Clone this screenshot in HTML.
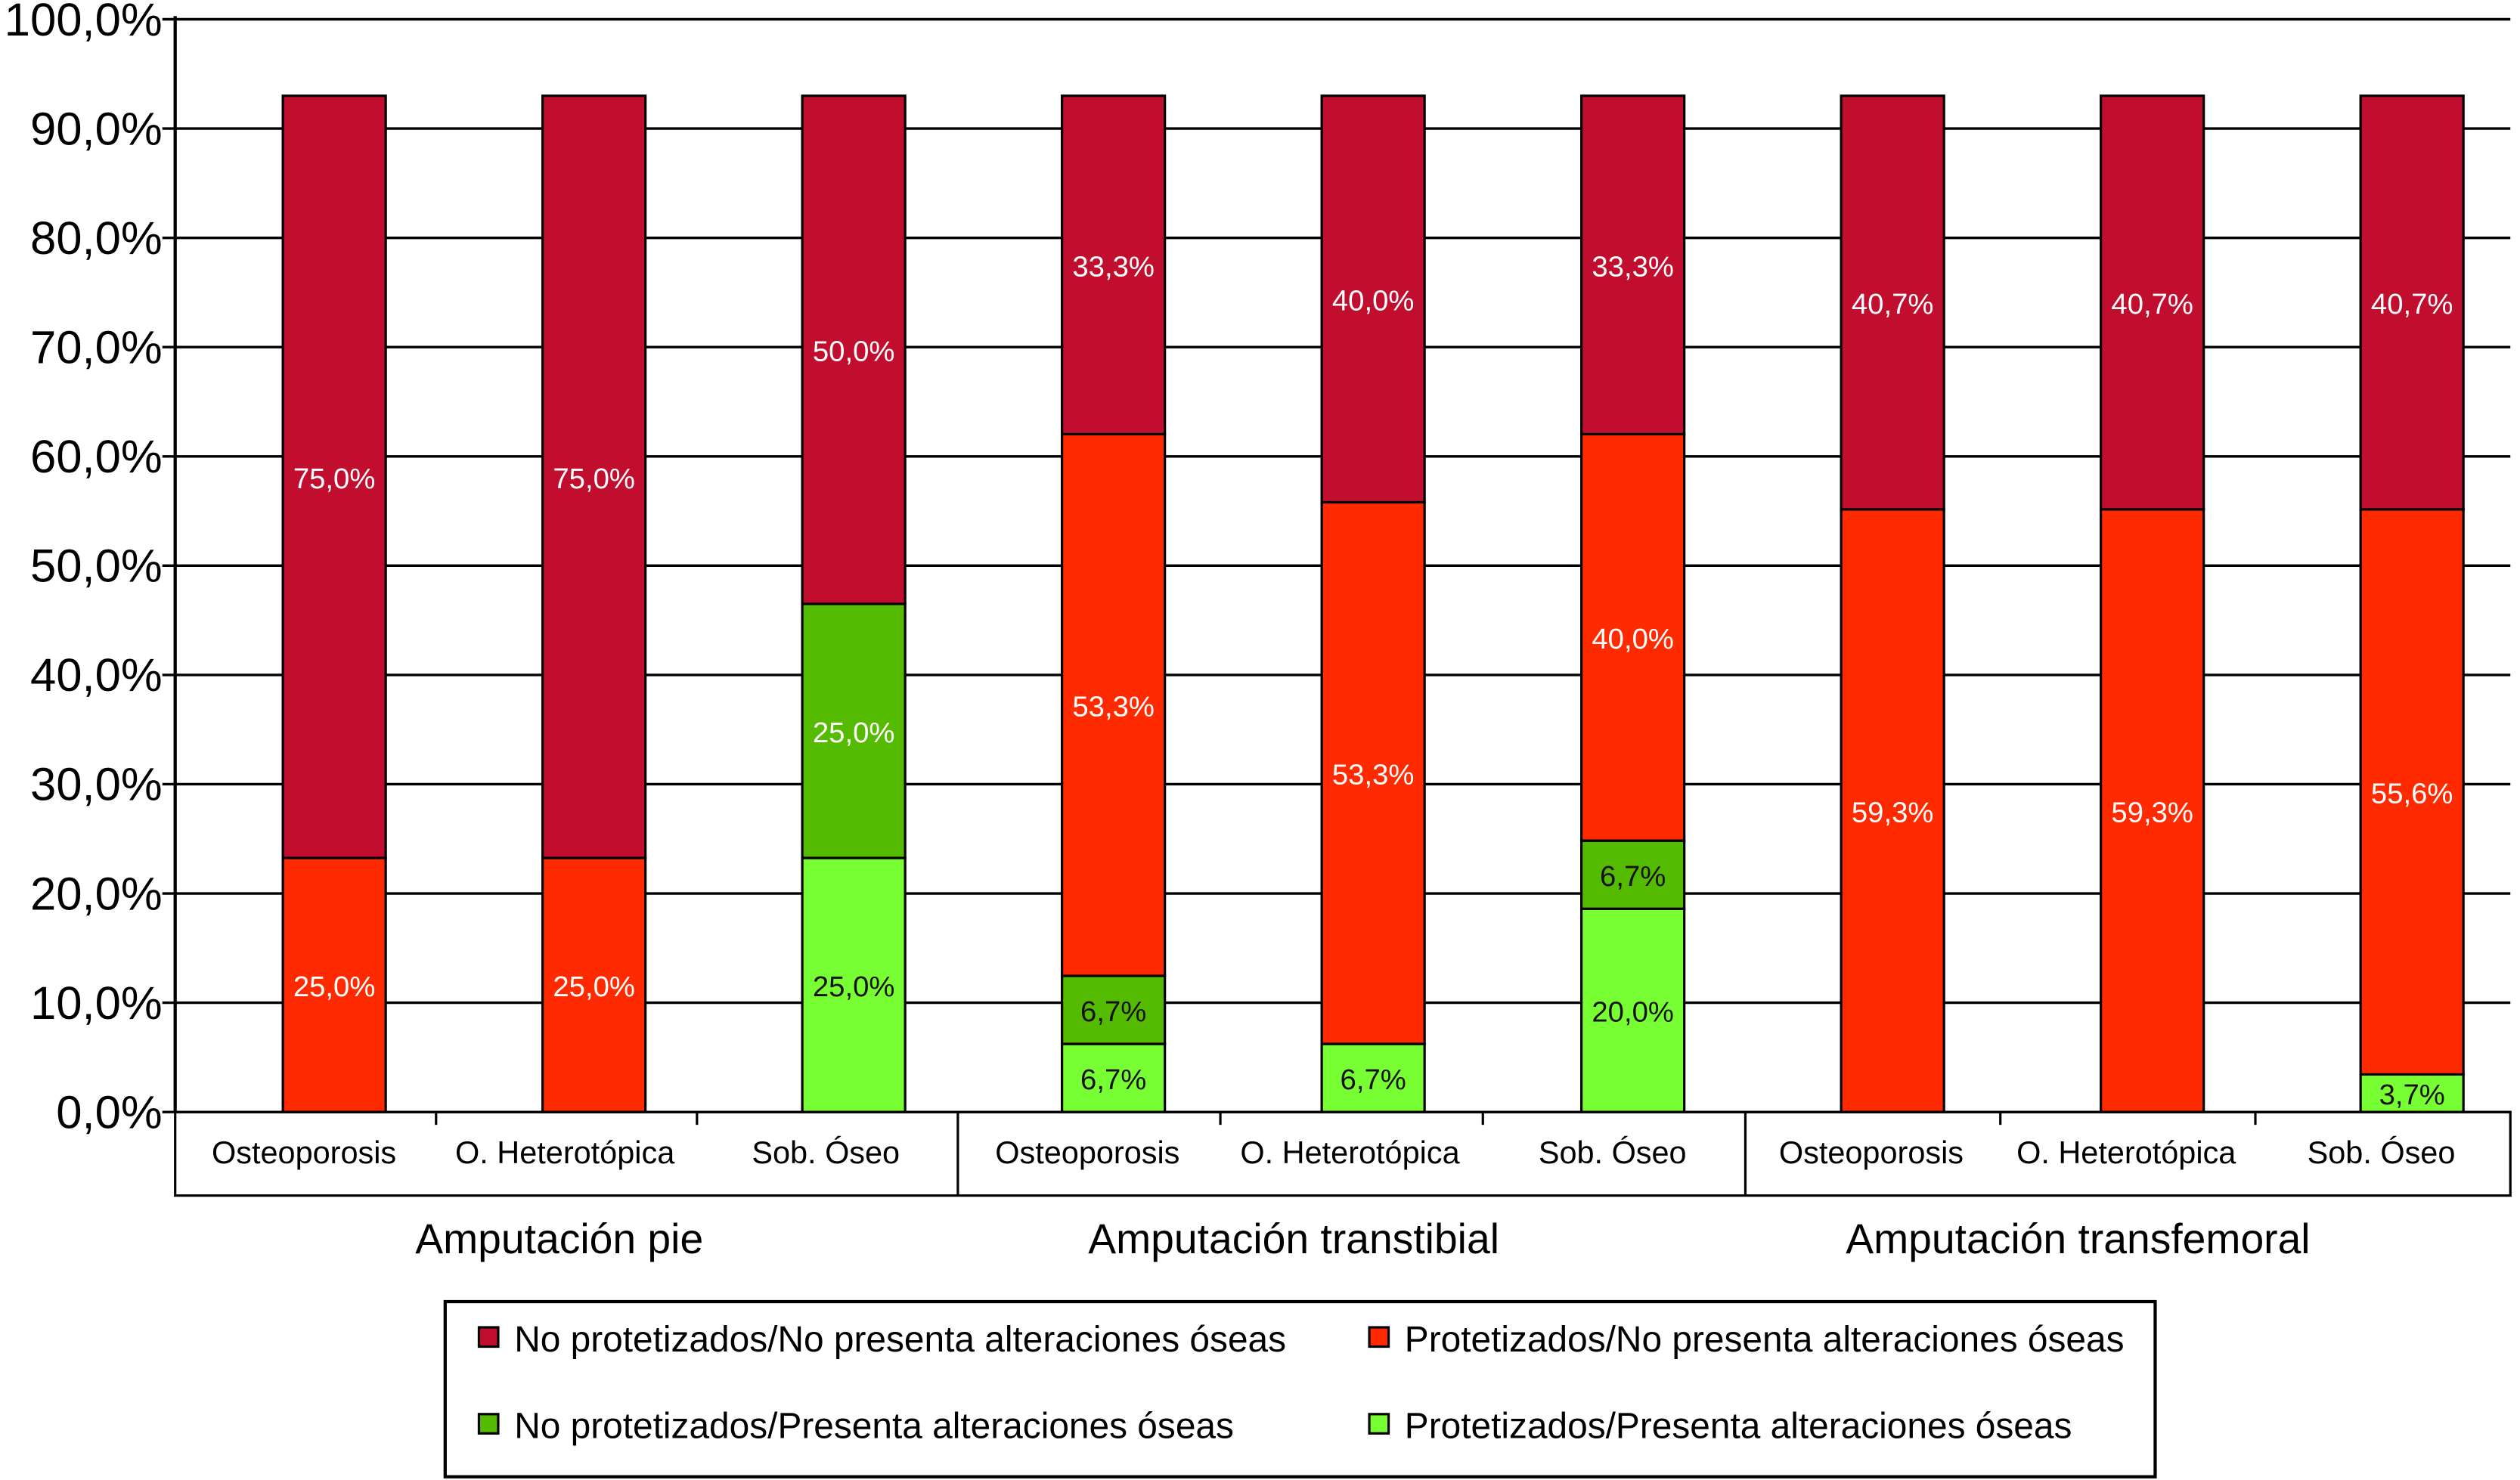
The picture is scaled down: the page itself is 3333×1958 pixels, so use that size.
<!DOCTYPE html>
<html><head><meta charset="utf-8"><style>html,body{margin:0;padding:0;background:#fff}svg{display:block}text{font-family:"Liberation Sans",Arial,sans-serif}</style></head>
<body>
<svg id="chart" width="3333" height="1958" viewBox="0 0 1568 921" preserveAspectRatio="none" xmlns="http://www.w3.org/2000/svg">
<g id="grid"></g>
<g id="yaxis"></g>
<g id="bars"></g>
<g id="xaxis"></g>
<g id="legend"></g>
</svg>
<script>
const groups = ["Amputación pie", "Amputación transtibial", "Amputación transfemoral"];
const categories = ["Osteoporosis", "O. Heterotópica", "Sob. Óseo"];
const seriesNames = ["Protetizados/Presenta alteraciones óseas", "No protetizados/Presenta alteraciones óseas", "Protetizados/No presenta alteraciones óseas", "No protetizados/No presenta alteraciones óseas"];
// values per bar (9 bars), bottom to top
const protPresenta = [0, 0, 25.0, 6.7, 6.7, 20.0, 0, 0, 3.7];
const noProtPresenta = [0, 0, 25.0, 6.7, 0, 6.7, 0, 0, 0];
const protNoPresenta = [25.0, 25.0, 0, 53.3, 53.3, 40.0, 59.3, 59.3, 55.6];
const noProtNoPresenta = [75.0, 75.0, 50.0, 33.3, 40.0, 33.3, 40.7, 40.7, 40.7];
const yTicks = [0, 10, 20, 30, 40, 50, 60, 70, 80, 90, 100];
const tickLabels = ["0,0%", "10,0%", "20,0%", "30,0%", "40,0%", "50,0%", "60,0%", "70,0%", "80,0%", "90,0%", "100,0%"];

const NS = "http://www.w3.org/2000/svg";
const X0 = 109, X1 = 1562, Y0 = 692, Y100 = 12;
const barScale = 0.93;
const colors = ["#77FF33", "#55BB00", "#FF2A00", "#C20E2E"];
const textColors = ["#111", "#fff", "#fff", "#fff"];
function y(v){ return Y0 - (Y0 - Y100) * v / 100; }
const groupX = [109, 596, 1086, 1562];
const groupLabelX = [348, 805, 1293];
function barCenter(i){ return 208 + i * 161.6; }
function el(tag, attrs, parent){
  const e = document.createElementNS(NS, tag);
  for (const k in attrs) e.setAttribute(k, attrs[k]);
  parent.appendChild(e); return e;
}
const grid = document.getElementById('grid'), yaxis = document.getElementById('yaxis'),
      bars = document.getElementById('bars'), xaxis = document.getElementById('xaxis'),
      legend = document.getElementById('legend');

yTicks.forEach((t, i) => {
  const ln = el('line', {x1: 101, x2: X1, y1: y(t), y2: y(t), stroke: '#000', 'stroke-width': 1.6}, grid);
  
  
  const tx = el('text', {x: 101, y: y(t) + 10, 'text-anchor': 'end', 'font-size': 29, fill: '#000'}, yaxis);
  tx.textContent = tickLabels[i];
  
  
});
const ax = el('line', {x1: X0, x2: X0, y1: Y100 - 2, y2: Y0, stroke: '#000', 'stroke-width': 2}, yaxis);



const series = [protPresenta, noProtPresenta, protNoPresenta, noProtNoPresenta];
const BW = 64;
for (let i = 0; i < 9; i++) {
  const cx = barCenter(i);
  let cum = 0;
  series.forEach((s, si) => {
    const v = s[i];
    if (v <= 0) return;
    const yb = y(cum * barScale), yt = y((cum + v) * barScale);
    const r = el('rect', {x: cx - BW/2, y: yt, width: BW, height: yb - yt, fill: colors[si], stroke: '#000', 'stroke-width': 1.5}, bars);
    
    
    let tc = textColors[si];
    if (si === 1 && v < 10) tc = '#111';
    const t = el('text', {x: cx, y: (yb + yt)/2 + 7, 'text-anchor': 'middle', 'font-size': 18, fill: tc}, bars);
    t.textContent = v.toFixed(1).replace('.', ',') + '%';
    
    
    cum += v;
  });
}

const box = el('rect', {x: X0, y: Y0, width: X1 - X0, height: 52, fill: 'none', stroke: '#000', 'stroke-width': 1.5}, xaxis);


for (let g = 0; g < 3; g++) {
  if (g > 0) {
    const d = el('line', {x1: groupX[g], x2: groupX[g], y1: Y0, y2: Y0 + 52, stroke: '#000', 'stroke-width': 1.5}, xaxis);
    
    
  }
  const w = (groupX[g+1] - groupX[g]) / 3;
  for (let k = 0; k < 3; k++) {
    if (k > 0) {
      const tk = el('line', {x1: groupX[g] + w*k, x2: groupX[g] + w*k, y1: Y0, y2: Y0 + 8, stroke: '#000', 'stroke-width': 1.5}, xaxis);
      
      
    }
    const t = el('text', {x: groupX[g] + w*(k+0.5) - 1, y: 724, 'text-anchor': 'middle', 'font-size': 19.5, fill: '#000'}, xaxis);
    t.textContent = categories[k];
    
    
  }
  const gl = el('text', {x: groupLabelX[g], y: 780, 'text-anchor': 'middle', 'font-size': 26, fill: '#000'}, xaxis);
  gl.textContent = groups[g];
  
  
}

const lb = el('rect', {x: 277, y: 810, width: 1064, height: 109, fill: '#fff', stroke: '#000', 'stroke-width': 2}, legend);


const legendPos = [[298, 827], [852, 827], [298, 881], [852, 881]];
const legendOrder = [3, 2, 1, 0];
legendPos.forEach((p, i) => {
  const si = legendOrder[i];
  const yy = p[1];
  const sq = el('rect', {x: p[0], y: yy - 1, width: 12, height: 12, fill: colors[si], stroke: '#000', 'stroke-width': 1.5}, legend);
  
  
  const t = el('text', {x: p[0] + 22, y: yy + 14, 'font-size': 22.5, fill: '#000'}, legend);
  t.textContent = seriesNames[si];
  
  
});
</script>
</body></html>
